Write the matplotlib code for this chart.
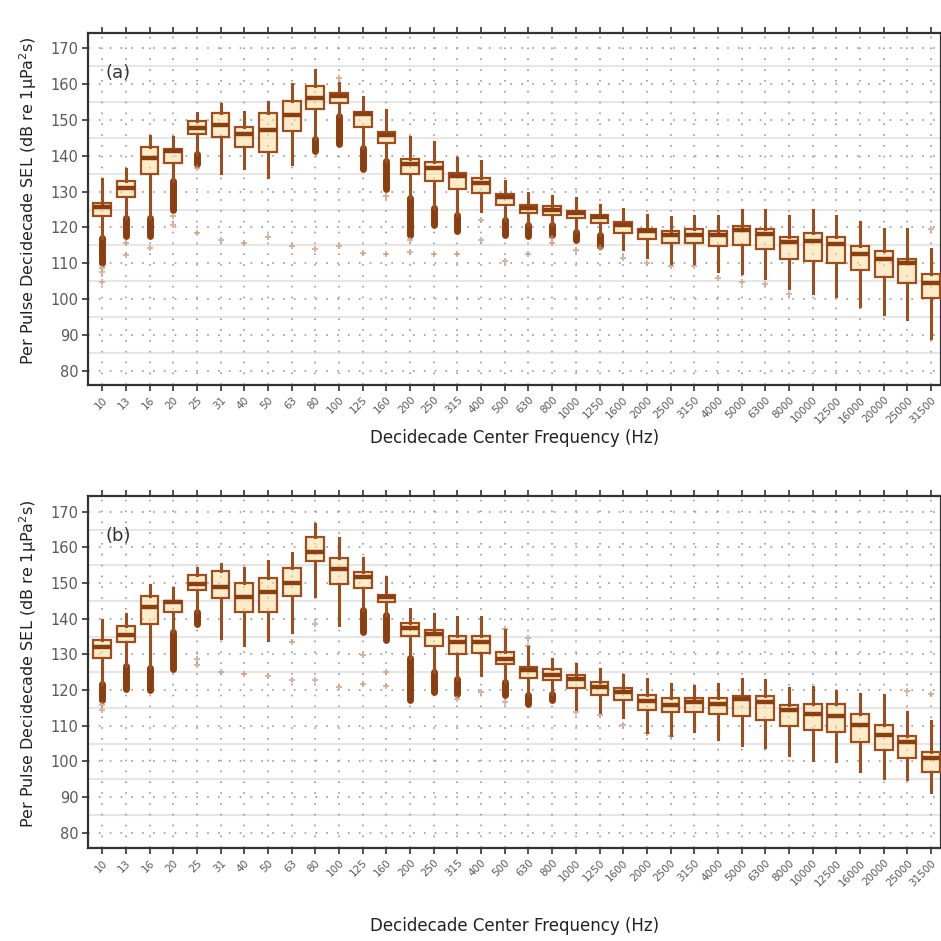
import numpy as np
import matplotlib
matplotlib.use("Agg")
import matplotlib.pyplot as plt

# Decidecade centre frequencies (Hz)
freqs = ["10", "13", "16", "20", "25", "31", "40", "50", "63", "80", "100", "125",
         "160", "200", "250", "315", "400", "500", "630", "800", "1000", "1250",
         "1600", "2000", "2500", "3150", "4000", "5000", "6300", "8000", "10000",
         "12500", "16000", "20000", "25000", "31500"]

# Panel (a): box statistics (dB)
a_whi = [133.6, 136.4, 145.5, 145.3, 152.0, 154.4, 152.3, 155.0, 160.0, 164.0, 160.4, 156.5,
         152.8, 145.2, 143.8, 139.5, 138.5, 133.1, 129.7, 128.8, 128.1, 126.4, 125.2, 123.6,
         122.9, 123.2, 123.2, 125.0, 125.0, 123.2, 125.0, 123.2, 121.5, 119.6, 119.6, 113.9]
a_q3 = [126.9, 133.1, 142.4, 142.0, 149.7, 152.0, 148.0, 152.0, 155.3, 159.5, 157.6, 152.2,
        146.6, 139.2, 138.2, 135.3, 133.7, 129.2, 126.4, 126.0, 124.7, 123.6, 121.5, 119.6,
        119.0, 119.6, 119.0, 120.4, 119.6, 117.4, 118.5, 117.4, 114.8, 113.4, 111.2, 106.9]
a_med = [125.8, 130.9, 139.5, 141.3, 147.8, 148.5, 146.0, 147.2, 151.3, 156.2, 156.7, 151.6,
         145.7, 137.6, 136.7, 134.5, 132.5, 128.5, 125.5, 125.0, 124.1, 123.0, 120.7, 119.0,
         118.0, 118.0, 117.9, 119.4, 118.3, 116.0, 116.2, 115.3, 112.5, 111.1, 110.1, 104.4]
a_q1 = [123.2, 128.6, 134.8, 138.1, 146.0, 145.3, 142.5, 141.0, 146.9, 153.1, 154.8, 148.0,
        143.6, 134.8, 132.9, 130.8, 129.7, 126.4, 124.1, 123.6, 122.5, 121.3, 118.5, 116.9,
        115.7, 115.7, 114.8, 115.2, 114.0, 111.2, 110.6, 110.1, 108.0, 106.2, 104.5, 100.2]
a_wlo = [117.1, 122.7, 122.7, 132.9, 140.4, 135.3, 136.7, 134.2, 137.6, 144.8, 151.1, 142.3,
         138.5, 128.3, 125.5, 123.6, 124.6, 122.0, 120.8, 120.8, 118.8, 118.0, 113.9, 111.8,
         110.1, 110.1, 107.8, 107.3, 105.9, 103.1, 101.7, 100.8, 98.2, 95.9, 94.3, 89.2]
# dense outlier runs below/above the whiskers: (category index, top, bottom)
a_runs = [(0, 117.1, 110.1), (1, 122.7, 117.6), (2, 122.7, 117.6), (3, 132.9, 125.0),
          (4, 140.4, 137.6), (5, 134.8, 134.8), (9, 144.8, 141.3), (10, 151.1, 143.2),
          (11, 142.3, 136.2), (12, 152.8, 152.8), (12, 138.5, 130.6), (13, 128.3, 118.0),
          (14, 125.5, 120.8), (15, 123.6, 119.0), (16, 123.6, 123.6), (17, 122.0, 118.0),
          (18, 120.8, 117.6), (19, 120.8, 118.0), (20, 118.8, 116.6), (21, 118.0, 114.8),
          (27, 107.3, 107.3), (32, 98.2, 98.2), (33, 95.9, 95.9), (34, 94.3, 94.3),
          (35, 89.2, 89.2)]
# sparse extreme points (category index, value)
a_sparse = [(0, 108.7), (0, 107.5), (0, 104.7), (1, 115.7), (1, 112.2), (2, 114.3), (3, 123.2),
            (3, 120.8), (4, 136.7), (4, 118.5), (5, 116.5), (6, 115.7), (7, 117.4), (8, 114.8),
            (9, 114.1), (10, 161.8), (10, 114.8), (11, 112.9), (12, 128.8), (12, 112.5),
            (13, 116.5), (13, 113.1), (14, 112.5), (15, 112.5), (16, 122.0), (16, 116.5),
            (17, 110.6), (18, 112.5), (19, 117.1), (19, 115.7), (20, 113.6), (21, 114.3),
            (22, 111.5), (23, 110.1), (24, 109.2), (25, 109.2), (26, 105.9), (27, 104.7),
            (28, 104.1), (29, 101.3), (35, 119.6)]

# Panel (b)
b_whi = [139.7, 141.3, 149.4, 148.5, 154.1, 155.3, 154.1, 156.2, 158.4, 166.5, 162.7, 156.9,
         151.6, 142.7, 141.3, 140.4, 140.4, 136.7, 132.0, 128.6, 127.4, 125.8, 124.1, 123.0,
         121.8, 121.1, 121.8, 123.0, 122.7, 120.6, 120.8, 119.6, 119.0, 118.5, 113.7, 111.3]
b_q3 = [133.9, 137.9, 146.3, 145.0, 152.2, 153.4, 150.0, 151.3, 154.1, 163.0, 156.9, 153.0,
        146.7, 138.8, 136.7, 135.2, 135.2, 130.6, 126.4, 125.8, 124.1, 122.2, 120.6, 118.7,
        117.8, 117.8, 117.8, 118.3, 118.3, 115.9, 116.0, 116.0, 113.2, 110.2, 107.2, 102.5]
b_med = [132.0, 135.3, 143.2, 144.6, 149.7, 149.0, 146.0, 147.6, 150.0, 158.7, 153.9, 151.8,
         146.2, 137.4, 135.7, 133.4, 133.4, 128.8, 125.5, 124.3, 123.2, 120.8, 119.4, 116.8,
         115.9, 116.5, 116.2, 117.6, 116.5, 114.3, 113.4, 112.7, 110.3, 107.5, 105.3, 100.8]
b_q1 = [128.9, 133.4, 138.5, 141.8, 148.0, 145.7, 141.8, 141.8, 146.3, 156.2, 149.7, 148.5,
        144.6, 135.1, 132.3, 130.0, 130.4, 127.4, 123.4, 122.7, 120.6, 118.7, 117.1, 114.3,
        113.9, 113.9, 113.2, 112.7, 111.5, 109.9, 108.7, 108.3, 105.5, 103.1, 101.0, 97.1]
b_wlo = [121.8, 126.7, 126.1, 136.2, 141.8, 134.5, 132.7, 133.9, 136.2, 146.4, 138.1, 142.5,
         140.9, 128.9, 125.0, 123.0, 124.1, 122.2, 118.5, 119.0, 114.7, 113.9, 112.5, 108.3,
         107.3, 108.5, 106.4, 104.7, 104.1, 101.9, 100.4, 100.2, 97.3, 95.2, 95.0, 91.3]
b_runs = [(0, 121.8, 117.1), (1, 126.7, 120.4), (2, 126.1, 119.9), (3, 136.2, 126.0),
          (4, 141.8, 138.5), (5, 134.5, 134.5), (11, 142.5, 136.2), (12, 151.6, 151.6),
          (12, 140.9, 133.9), (13, 128.9, 117.1), (14, 125.0, 119.4), (15, 123.0, 119.0),
          (16, 123.6, 123.6), (17, 122.2, 118.5), (18, 118.5, 116.2), (19, 119.0, 117.1),
          (21, 113.9, 113.9), (22, 112.5, 112.5), (25, 108.5, 108.5), (26, 106.4, 106.4)]
b_sparse = [(0, 115.7), (0, 114.3), (4, 128.8), (4, 126.9), (5, 125.0), (6, 124.6), (7, 123.8),
            (8, 133.6), (8, 122.9), (9, 138.5), (9, 122.9), (10, 120.8), (11, 129.7),
            (11, 121.8), (12, 125.0), (12, 121.0), (15, 117.4), (16, 119.4), (17, 137.1),
            (17, 116.6), (18, 134.5), (18, 132.3), (20, 113.9), (21, 112.9), (22, 110.1),
            (23, 108.0), (24, 107.0), (34, 119.6), (35, 119.0)]

edge = "#9C4F1E"
dark = "#8B3E10"
fill = (0.99, 0.87, 0.62, 0.55)
pos = np.arange(1, len(freqs) + 1)


def draw_panel(ax, whi, q3, med, q1, wlo, runs, sparse, tag, ylim):
    # background grid
    for v in np.arange(75, 175, 10):
        ax.axhline(v, color="#E6E6E6", lw=1.5, zorder=0)
    for v in np.arange(80, 175, 10):
        ax.axhline(v, color="#9A9A9A", lw=1.2, ls=(0, (1, 5.5)), zorder=0)
    for p in pos:
        ax.axvline(p, color="#9A9A9A", lw=1.2, ls=(0, (1, 5.5)), zorder=0)

    stats = [dict(whislo=wlo[i], q1=q1[i], med=med[i], q3=q3[i], whishi=whi[i], fliers=[])
             for i in range(len(freqs))]
    ax.bxp(stats, positions=pos, widths=0.75, patch_artist=True, showcaps=False,
           showfliers=False,
           boxprops=dict(facecolor=fill, edgecolor=edge, linewidth=1.6),
           medianprops=dict(color=dark, linewidth=3.2, solid_capstyle="butt"),
           whiskerprops=dict(color=edge, linewidth=2.2), zorder=3)

    for i, top, bot in runs:
        ax.plot([pos[i], pos[i]], [top, bot], color=dark, lw=5, solid_capstyle="round",
                zorder=2)
    sx = [pos[i] for i, v in sparse]
    sy = [v for i, v in sparse]
    ax.plot(sx, sy, ls="none", marker="P", ms=5, color="#C9957A", alpha=0.7, mew=0,
            zorder=2)

    ax.set_xlim(0.4, 36.42)
    ax.set_ylim(*ylim)
    ax.set_yticks(np.arange(80, 171, 10))
    ax.set_xticks(pos)
    ax.set_xticklabels(freqs, rotation=45, ha="right", va="top", rotation_mode="anchor",
                       fontsize=7.5, color="#5A5A5A")
    ax.tick_params(axis="y", labelsize=10.5, labelcolor="#5A5A5A", length=4, width=1.2,
                   color="#333333", pad=3)
    ax.tick_params(axis="x", length=4, width=1.2, color="#333333", pad=3, top=True)
    for s in ax.spines.values():
        s.set_color("#333333")
        s.set_linewidth(1.6)
    ax.set_xlabel("Decidecade Center Frequency (Hz)", fontsize=12, color="#222222")
    ax.set_ylabel("Per Pulse Decidecade SEL (dB re 1\u03bcPa$^2$s)", fontsize=11.5,
                  color="#222222")
    ax.yaxis.set_label_coords(-0.057, 0.525)
    ax.text(0.02, 0.885, tag, transform=ax.transAxes, fontsize=13, color="#333333",
            ha="left", va="center")


fig = plt.figure(figsize=(9.41, 9.41), dpi=100)
ax1 = fig.add_axes([88 / 941, 1 - 385 / 941, 853 / 941, 352 / 941])
ax2 = fig.add_axes([88 / 941, 1 - 848 / 941, 853 / 941, 352 / 941])

draw_panel(ax1, a_whi, a_q3, a_med, a_q1, a_wlo, a_runs, a_sparse, "(a)", (76.0, 174.3))
draw_panel(ax2, b_whi, b_q3, b_med, b_q1, b_wlo, b_runs, b_sparse, "(b)", (75.7, 174.4))
ax1.xaxis.set_label_coords(0.5, -0.125)
ax2.xaxis.set_label_coords(0.5, -0.195)

fig.savefig("out.png", dpi=100)
